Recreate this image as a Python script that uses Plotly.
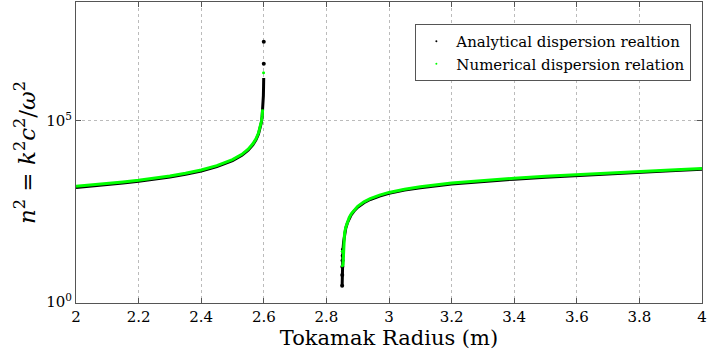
import plotly.graph_objects as go

# ---- data ----
# left branch (below the resonance near R = 2.6 m)
x_left = [2.0, 2.05, 2.1, 2.15, 2.2, 2.25, 2.3, 2.35, 2.4, 2.45, 2.5, 2.53, 2.55,
          2.565, 2.575, 2.583, 2.588, 2.592, 2.5945, 2.5965, 2.5978, 2.5987, 2.5993, 2.5997]
y_left_ana = [1445, 1570, 1720, 1900, 2120, 2410, 2790, 3320, 4100, 5400, 7930, 11100, 15300,
              21500, 29600, 42700, 59400, 87300, 125000, 191000, 296000, 490000, 890000, 1500000]
x_left_num = [2.0, 2.05, 2.1, 2.15, 2.2, 2.25, 2.3, 2.35, 2.4, 2.45, 2.5, 2.53, 2.55,
              2.565, 2.575, 2.583, 2.588, 2.592, 2.5945, 2.5965]
y_left_num = [1540, 1670, 1830, 2020, 2260, 2570, 2970, 3540, 4370, 5750, 8450, 11800, 16300,
              22900, 31500, 45500, 63300, 93000, 133000, 203000]

# isolated points near the resonance
x_spike_ana = [2.5999, 2.59995]
y_spike_ana = [3.7e6, 1.5e7]
x_spike_num = [2.5992]
y_spike_num = [2.1e6]

# right branch (above the cut-off near R = 2.85 m)
x_right = [2.8503, 2.8506, 2.851, 2.8515, 2.852, 2.853, 2.855, 2.858, 2.862, 2.867, 2.873,
           2.88, 2.89, 2.9, 2.92, 2.94, 2.97, 3.0, 3.05, 3.1, 3.2, 3.3, 3.4, 3.5, 3.6,
           3.7, 3.8, 3.9, 4.0]
y_right_ana = [2.8, 5.6, 9.4, 14, 18.8, 28, 46, 74, 109, 151, 203,
               259, 336, 409, 544, 668, 837, 991, 1220, 1420, 1790, 2120, 2440, 2760, 3080,
               3420, 3780, 4140, 4540]
x_right_num = [2.853, 2.855, 2.858, 2.862, 2.867, 2.873,
               2.88, 2.89, 2.9, 2.92, 2.94, 2.97, 3.0, 3.05, 3.1, 3.2, 3.3, 3.4, 3.5, 3.6,
               3.7, 3.8, 3.9, 4.0]
y_right_num = [10, 49, 79, 116, 160, 215,
               275, 356, 434, 577, 708, 887, 1050, 1290, 1505, 1900, 2250, 2590, 2930, 3270,
               3630, 4010, 4390, 4810]
x_cut_num = [2.8508, 2.8511, 2.8505]
y_cut_num = [25, 10, 0.82]

x_ticks = [2, 2.2, 2.4, 2.6, 2.8, 3, 3.2, 3.4, 3.6, 3.8, 4]
x_ticktext = ["2", "2.2", "2.4", "2.6", "2.8", "3", "3.2", "3.4", "3.6", "3.8", "4"]
y_ticks = [1, 1e5]
y_ticktext = ["10<sup>0</sup>", "10<sup>5</sup>"]

BLACK = "#000000"
GREEN = "#00ff00"
SERIF = "DejaVu Serif"

fig = go.Figure()

# analytical (black) curves
for xs, ys in [(x_left, y_left_ana), (x_right, y_right_ana)]:
    fig.add_trace(go.Scatter(x=xs, y=ys, mode="lines", line=dict(color=BLACK, width=3),
                             showlegend=False, hoverinfo="skip"))
fig.add_trace(go.Scatter(x=x_spike_ana, y=y_spike_ana, mode="markers",
                         marker=dict(color=BLACK, size=4), showlegend=False))
fig.add_trace(go.Scatter(x=x_right[:6], y=y_right_ana[:6], mode="markers",
                         marker=dict(color=BLACK, size=4), showlegend=False))

# numerical (green) curves
for xs, ys in [(x_left_num, y_left_num), (x_right_num, y_right_num)]:
    fig.add_trace(go.Scatter(x=xs, y=ys, mode="lines", line=dict(color=GREEN, width=3),
                             showlegend=False, hoverinfo="skip"))
fig.add_trace(go.Scatter(x=x_spike_num, y=y_spike_num, mode="markers",
                         marker=dict(color=GREEN, size=3), showlegend=False))
fig.add_trace(go.Scatter(x=x_cut_num, y=y_cut_num, mode="markers", cliponaxis=False,
                         marker=dict(color=GREEN, size=3), showlegend=False))

# legend entries
fig.add_trace(go.Scatter(x=[None], y=[None], mode="markers", name="Analytical dispersion realtion",
                         marker=dict(color=BLACK, size=2)))
fig.add_trace(go.Scatter(x=[None], y=[None], mode="markers", name="Numerical dispersion relation",
                         marker=dict(color=GREEN, size=2)))

axis_common = dict(showline=True, linecolor="#555555", linewidth=1, mirror="ticks",
                   ticks="inside", ticklen=5, tickcolor="#555555",
                   showgrid=True, gridcolor="#bbbbbb", griddash="dot", gridwidth=1,
                   zeroline=False, tickfont=dict(family=SERIF, size=15, color="#000000"))

fig.update_xaxes(range=[2, 4], tickvals=x_ticks, ticktext=x_ticktext,
                 ticklabeloverflow="allow",
                 title=dict(text="Tokamak Radius (m)", font=dict(family=SERIF, size=21, color="#000000"),
                            standoff=2),
                 **axis_common)
fig.update_yaxes(type="log", range=[-0.027, 8.27], tickvals=y_ticks, ticktext=y_ticktext,
                 title=dict(text="<i>n</i><sup>2</sup> = <i>k</i><sup>2</sup><i>c</i><sup>2</sup>/<i>ω</i><sup>2</sup>",
                            font=dict(family=SERIF, size=23, color="#000000"), standoff=4),
                 **axis_common)

fig.update_layout(
    width=708, height=360,
    margin=dict(l=76, r=1, t=1, b=57),
    paper_bgcolor="white", plot_bgcolor="white",
    legend=dict(x=0.983, y=0.927, xanchor="right", yanchor="top",
                bgcolor="white", bordercolor="#555555", borderwidth=1,
                font=dict(family=SERIF, size=15, color="#000000"),
                itemwidth=30, tracegroupgap=0),
    showlegend=True,
)

fig.write_html("out.html")
